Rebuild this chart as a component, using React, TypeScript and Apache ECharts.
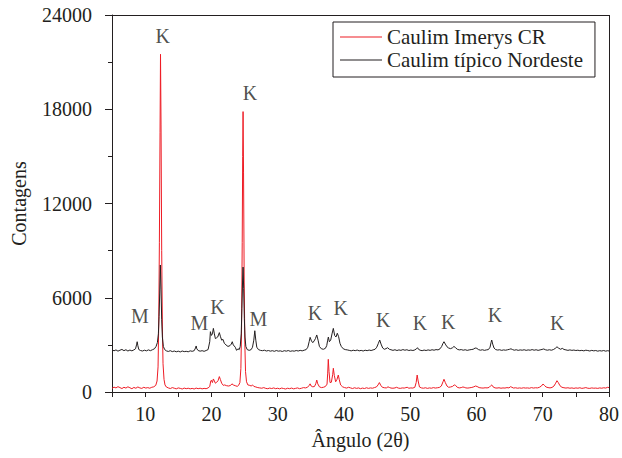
import React, { useEffect, useRef } from "react";
import * as echarts from "echarts";

const seriesNames = ["Caulim Imerys CR", "Caulim típico Nordeste"];

// [2θ, contagens]
const imerysData: [number, number][] = [
  [5.0, 230], [5.3, 310], [5.6, 260], [5.9, 340], [6.2, 280], [6.5, 220], [6.8, 300], [7.1, 250], [7.4, 330], [7.7, 270],
  [8.0, 210], [8.3, 290], [8.6, 240], [8.9, 320], [9.2, 260], [9.5, 230], [9.8, 300], [10.1, 250], [10.4, 280], [10.7, 240],
  [11.0, 300], [11.3, 330], [11.6, 420], [11.8, 700], [11.95, 1600], [12.05, 4200], [12.15, 9500], [12.25, 16500], [12.32, 21500],
  [12.4, 17000], [12.5, 9000], [12.6, 4200], [12.7, 1800], [12.85, 800], [13.0, 450], [13.2, 320], [13.5, 260], [13.8, 220],
  [14.1, 280], [14.4, 240], [14.7, 200], [15.0, 260], [15.3, 230], [15.6, 190], [15.9, 250], [16.2, 210], [16.5, 240], [16.8, 200],
  [17.1, 230], [17.4, 190], [17.7, 250], [18.0, 210], [18.3, 240], [18.6, 200], [18.9, 230], [19.2, 210], [19.5, 260], [19.75, 350],
  [19.9, 700], [20.0, 750], [20.15, 600], [20.3, 830], [20.45, 700], [20.6, 560], [20.8, 620], [21.0, 720], [21.2, 980], [21.35, 800],
  [21.55, 560], [21.8, 420], [22.0, 450], [22.3, 400], [22.6, 380], [22.9, 420], [23.1, 520], [23.3, 450], [23.6, 400], [23.9, 360],
  [24.1, 420], [24.3, 600], [24.45, 1500], [24.55, 4000], [24.65, 9500], [24.72, 15000], [24.78, 17850], [24.85, 14000], [24.95, 7000],
  [25.05, 3000], [25.15, 1300], [25.3, 650], [25.5, 450], [25.8, 420], [26.0, 380], [26.2, 450], [26.4, 360], [26.7, 320], [27.0, 280],
  [27.3, 260], [27.6, 240], [27.9, 280], [28.2, 230], [28.5, 210], [28.8, 250], [29.1, 220], [29.4, 260], [29.7, 210], [30.0, 240],
  [30.3, 200], [30.6, 250], [30.9, 220], [31.2, 190], [31.5, 240], [31.8, 210], [32.1, 250], [32.4, 200], [32.7, 230], [33.0, 260],
  [33.3, 210], [33.6, 240], [33.9, 280], [34.2, 260], [34.5, 300], [34.75, 420], [34.9, 520], [35.05, 380], [35.3, 330], [35.55, 350],
  [35.75, 520], [35.9, 760], [36.05, 520], [36.3, 330], [36.6, 280], [36.9, 300], [37.2, 350], [37.45, 500], [37.55, 1200], [37.64, 2080],
  [37.75, 1300], [37.9, 600], [38.1, 620], [38.3, 1100], [38.4, 1510], [38.55, 1050], [38.75, 650], [38.95, 800], [39.15, 1080], [39.3, 780],
  [39.5, 450], [39.8, 330], [40.1, 280], [40.4, 250], [40.7, 300], [41.0, 260], [41.3, 220], [41.6, 270], [41.9, 230], [42.2, 260],
  [42.5, 210], [42.8, 250], [43.1, 220], [43.4, 270], [43.7, 230], [44.0, 260], [44.3, 240], [44.6, 280], [44.9, 320], [45.15, 450],
  [45.35, 600], [45.55, 430], [45.8, 300], [46.1, 270], [46.4, 260], [46.65, 330], [46.85, 290], [47.1, 250], [47.4, 240], [47.7, 260],
  [47.95, 300], [48.2, 250], [48.5, 230], [48.8, 260], [49.1, 250], [49.35, 280], [49.55, 300], [49.8, 240], [50.1, 260], [50.4, 250],
  [50.7, 300], [50.9, 600], [51.05, 1080], [51.2, 700], [51.4, 320], [51.7, 260], [52.0, 240], [52.3, 270], [52.6, 230], [52.9, 260],
  [53.2, 240], [53.5, 280], [53.8, 250], [54.1, 270], [54.4, 290], [54.7, 380], [54.95, 650], [55.1, 810], [55.3, 600], [55.55, 380],
  [55.8, 300], [56.1, 320], [56.4, 360], [56.65, 450], [56.85, 420], [57.1, 300], [57.4, 260], [57.7, 280], [57.95, 320], [58.15, 300],
  [58.4, 260], [58.7, 250], [59.0, 270], [59.3, 290], [59.6, 330], [59.85, 380], [60.1, 350], [60.4, 280], [60.7, 260], [61.0, 250],
  [61.3, 270], [61.6, 260], [61.9, 290], [62.15, 400], [62.3, 450], [62.5, 330], [62.8, 260], [63.1, 250], [63.4, 270], [63.7, 240],
  [64.0, 260], [64.3, 250], [64.6, 280], [64.9, 260], [65.15, 340], [65.35, 300], [65.6, 250], [65.9, 270], [66.2, 240], [66.5, 260],
  [66.8, 240], [67.1, 270], [67.4, 250], [67.7, 260], [68.0, 240], [68.3, 280], [68.6, 250], [68.9, 270], [69.2, 260], [69.5, 300],
  [69.8, 380], [70.05, 510], [70.25, 420], [70.5, 320], [70.8, 280], [71.1, 260], [71.4, 290], [71.7, 380], [71.95, 560], [72.15, 720],
  [72.35, 600], [72.6, 400], [72.9, 300], [73.2, 270], [73.5, 250], [73.8, 270], [74.1, 240], [74.4, 260], [74.7, 230], [75.0, 260],
  [75.3, 240], [75.6, 270], [75.9, 230], [76.2, 250], [76.5, 280], [76.8, 240], [77.1, 230], [77.4, 260], [77.7, 240], [78.0, 250],
  [78.3, 230], [78.6, 260], [78.9, 240], [79.2, 270], [79.5, 250], [79.8, 300], [80.0, 280],
];

const nordesteData: [number, number][] = [
  [5.0, 2700], [5.3, 2620], [5.6, 2680], [5.9, 2600], [6.2, 2660], [6.5, 2710], [6.8, 2630], [7.1, 2690], [7.4, 2610], [7.7, 2670],
  [8.0, 2620], [8.3, 2680], [8.55, 2750], [8.7, 3000], [8.8, 3200], [8.9, 2950], [9.05, 2700], [9.3, 2640], [9.6, 2610], [9.9, 2660],
  [10.2, 2620], [10.5, 2680], [10.8, 2630], [11.1, 2690], [11.4, 2750], [11.65, 2900], [11.85, 3150], [12.0, 3700], [12.1, 4800],
  [12.2, 6300], [12.3, 8085], [12.4, 6500], [12.5, 4600], [12.6, 3500], [12.75, 2900], [12.95, 2700], [13.2, 2620], [13.5, 2580],
  [13.8, 2630], [14.1, 2570], [14.4, 2610], [14.7, 2560], [15.0, 2600], [15.3, 2550], [15.6, 2610], [15.9, 2570], [16.2, 2590],
  [16.5, 2560], [16.8, 2620], [17.1, 2590], [17.4, 2630], [17.6, 2800], [17.7, 2930], [17.8, 2750], [18.0, 2640], [18.3, 2600],
  [18.6, 2630], [18.9, 2590], [19.2, 2640], [19.5, 2700], [19.75, 3200], [19.85, 3840], [20.0, 3600], [20.15, 3700], [20.3, 4050],
  [20.45, 3700], [20.6, 3400], [20.75, 3440], [20.95, 3500], [21.2, 3780], [21.35, 3550], [21.55, 3300], [21.75, 3350], [21.95, 3100],
  [22.2, 3000], [22.5, 2900], [22.8, 2950], [23.0, 3050], [23.15, 3200], [23.3, 3000], [23.6, 2850], [23.8, 2650], [24.0, 2750],
  [24.2, 2700], [24.35, 2900], [24.5, 3700], [24.6, 5300], [24.7, 7000], [24.78, 7950], [24.87, 6600], [24.97, 4700], [25.07, 3500],
  [25.2, 2900], [25.4, 2700], [25.7, 2650], [26.0, 2700], [26.2, 2850], [26.4, 3300], [26.55, 3900], [26.7, 3300], [26.85, 2850],
  [27.1, 2700], [27.4, 2650], [27.7, 2630], [28.0, 2660], [28.3, 2610], [28.6, 2640], [28.9, 2600], [29.2, 2630], [29.5, 2590],
  [29.8, 2640], [30.1, 2600], [30.4, 2620], [30.7, 2580], [31.0, 2630], [31.3, 2600], [31.6, 2640], [31.9, 2590], [32.2, 2620],
  [32.5, 2600], [32.8, 2640], [33.1, 2610], [33.4, 2650], [33.7, 2620], [34.0, 2660], [34.3, 2700], [34.55, 2850], [34.75, 3200],
  [34.9, 3480], [35.1, 3250], [35.3, 3140], [35.5, 3250], [35.7, 3400], [35.9, 3630], [36.1, 3300], [36.3, 2900], [36.6, 2750],
  [36.9, 2720], [37.2, 2780], [37.4, 2950], [37.55, 3300], [37.65, 3500], [37.8, 3200], [38.0, 3300], [38.2, 3700], [38.4, 4050],
  [38.6, 3600], [38.8, 3500], [39.0, 3740], [39.2, 3520], [39.4, 3100], [39.6, 2900], [39.9, 2750], [40.2, 2700], [40.5, 2680],
  [40.8, 2650], [41.1, 2620], [41.4, 2660], [41.7, 2630], [42.0, 2670], [42.3, 2620], [42.6, 2650], [42.9, 2610], [43.2, 2660],
  [43.5, 2630], [43.8, 2670], [44.1, 2640], [44.4, 2680], [44.7, 2720], [44.95, 2850], [45.2, 3100], [45.4, 3310], [45.6, 3050],
  [45.85, 2800], [46.1, 2720], [46.35, 2760], [46.6, 2820], [46.85, 2720], [47.1, 2690], [47.4, 2650], [47.7, 2690], [48.0, 2640],
  [48.3, 2680], [48.6, 2650], [48.9, 2700], [49.2, 2660], [49.5, 2690], [49.8, 2640], [50.1, 2670], [50.4, 2640], [50.7, 2680],
  [50.95, 2750], [51.1, 2820], [51.25, 2720], [51.5, 2660], [51.8, 2630], [52.1, 2670], [52.4, 2640], [52.7, 2680], [53.0, 2650],
  [53.3, 2690], [53.6, 2660], [53.9, 2700], [54.2, 2680], [54.5, 2750], [54.75, 2900], [54.95, 3100], [55.1, 3200], [55.3, 3050],
  [55.55, 2880], [55.8, 2800], [56.1, 2760], [56.4, 2820], [56.6, 2900], [56.85, 2820], [57.1, 2720], [57.4, 2680], [57.7, 2700],
  [58.0, 2660], [58.3, 2690], [58.6, 2650], [58.9, 2680], [59.2, 2700], [59.5, 2720], [59.8, 2800], [60.05, 2780], [60.3, 2700],
  [60.6, 2660], [60.9, 2690], [61.2, 2650], [61.5, 2680], [61.8, 2700], [62.05, 2850], [62.2, 3150], [62.3, 3310], [62.45, 3050],
  [62.65, 2800], [62.9, 2700], [63.2, 2670], [63.5, 2690], [63.8, 2650], [64.1, 2680], [64.4, 2660], [64.7, 2690], [65.0, 2720],
  [65.2, 2750], [65.45, 2700], [65.7, 2660], [66.0, 2690], [66.3, 2650], [66.6, 2680], [66.9, 2660], [67.2, 2690], [67.5, 2650],
  [67.8, 2680], [68.1, 2660], [68.4, 2700], [68.7, 2660], [69.0, 2690], [69.3, 2650], [69.6, 2680], [69.9, 2710], [70.15, 2740],
  [70.4, 2690], [70.7, 2660], [71.0, 2690], [71.3, 2660], [71.6, 2700], [71.9, 2780], [72.15, 2880], [72.4, 2790], [72.7, 2720],
  [72.95, 2780], [73.2, 2710], [73.5, 2680], [73.8, 2650], [74.1, 2680], [74.4, 2650], [74.7, 2670], [75.0, 2640], [75.3, 2660],
  [75.6, 2630], [75.9, 2650], [76.2, 2620], [76.5, 2660], [76.8, 2640], [77.1, 2610], [77.4, 2650], [77.7, 2620], [78.0, 2640],
  [78.3, 2600], [78.6, 2630], [78.9, 2610], [79.2, 2640], [79.5, 2600], [79.8, 2630], [80.0, 2610],
];

// Peak annotations (M = mica, K = caulinita)
const annotationAngles = [9.2, 12.65, 18.17, 20.9, 25.82, 27.08, 35.63, 39.5, 45.94, 51.48, 55.75, 62.8, 72.2];
const annotationCounts = [4838, 22663, 4373, 5430, 19055, 4628, 5050, 5330, 4583, 4412, 4475, 4900, 4373];
const annotationTexts = ["M", "K", "M", "K", "K", "M", "K", "K", "K", "K", "K", "K", "K"];

const xMajorTicks = [10, 20, 30, 40, 50, 60, 70, 80];
const xRange = [5, 80];
const yRange = [0, 24000];

const FONT = "Liberation Serif";
const INK = "#231f20";

export default function App() {
  const ref = useRef<HTMLDivElement>(null);

  useEffect(() => {
    if (!ref.current) return;
    const chart = echarts.init(ref.current, null, { renderer: "svg" });
    const annotationData = annotationAngles.map((a, i) => ({
      value: [a, annotationCounts[i]],
      name: annotationTexts[i],
    }));
    chart.setOption({
      animation: false,
      grid: { left: 112, right: 13, top: 15, bottom: 66 },
      legend: {
        data: seriesNames,
        orient: "vertical",
        left: 333,
        top: 22,
        padding: [4.5, 12, 6.5, 7],
        itemGap: 2,
        itemWidth: 42,
        itemHeight: 1,
        icon: "rect",
        borderColor: INK,
        borderWidth: 1,
        textStyle: { fontFamily: FONT, fontSize: 21, lineHeight: 21, color: INK },
      },
      xAxis: {
        type: "value",
        min: xRange[0],
        max: xRange[1],
        interval: 5,
        name: "Ângulo (2θ)",
        nameLocation: "middle",
        nameGap: 38,
        nameTextStyle: { fontFamily: FONT, fontSize: 20, color: INK },
        axisLine: { lineStyle: { color: INK, width: 1 } },
        axisTick: { length: 5, lineStyle: { color: INK, width: 1 } },
        axisLabel: {
          fontFamily: FONT,
          fontSize: 20,
          color: INK,
          margin: 12,
          formatter: (v: number) => (xMajorTicks.includes(v) ? String(v) : ""),
        },
        splitLine: { show: false },
      },
      yAxis: {
        type: "value",
        min: yRange[0],
        max: yRange[1],
        interval: 6000,
        name: "Contagens",
        nameLocation: "middle",
        nameGap: 83,
        nameTextStyle: { fontFamily: FONT, fontSize: 20, color: INK },
        axisLine: { show: true, lineStyle: { color: INK, width: 1 } },
        axisTick: { show: true, length: 7, lineStyle: { color: INK, width: 1 } },
        minorTick: { show: true, splitNumber: 2, length: 4, lineStyle: { color: INK, width: 1 } },
        axisLabel: {
          fontFamily: FONT,
          fontSize: 20,
          color: INK,
          margin: 20,
          formatter: (v: number) => String(v),
        },
        splitLine: { show: false },
      },
      series: [
        {
          name: seriesNames[0],
          type: "line",
          data: imerysData,
          symbol: "none",
          lineStyle: { color: "#ee1c25", width: 1 },
          itemStyle: { color: "#ee1c25" },
        },
        {
          name: seriesNames[1],
          type: "line",
          data: nordesteData,
          symbol: "none",
          lineStyle: { color: INK, width: 1 },
          itemStyle: { color: INK },
          markLine: {
            symbol: "none",
            silent: true,
            label: { show: false },
            lineStyle: { color: INK, width: 1, type: "solid" },
            data: [{ yAxis: yRange[1] }, { xAxis: xRange[1] }],
          },
        },
        {
          name: "annotations",
          type: "scatter",
          data: annotationData,
          symbolSize: 1,
          itemStyle: { color: "rgba(0,0,0,0)" },
          label: {
            show: true,
            position: "inside",
            formatter: "{b}",
            fontFamily: FONT,
            fontSize: 20,
            color: INK,
          },
        },
      ],
    });
    return () => chart.dispose();
  }, []);

  return (
    <div
      ref={ref}
      style={{ position: "absolute", left: 0, top: 0, width: 622, height: 458 }}
    />
  );
}
